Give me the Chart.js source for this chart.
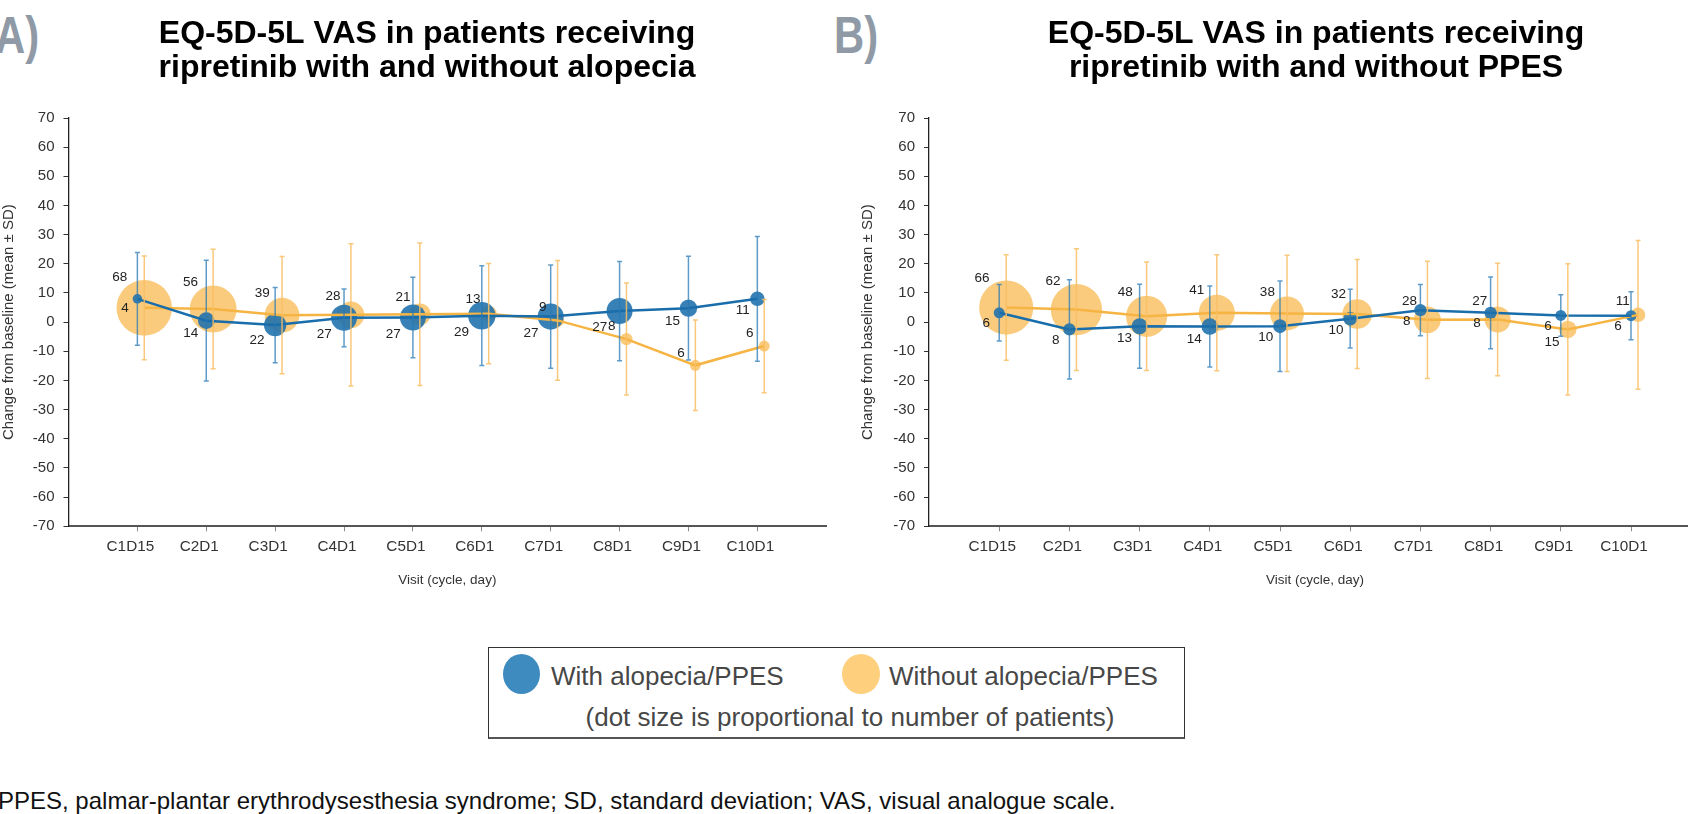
<!DOCTYPE html>
<html>
<head>
<meta charset="utf-8">
<title>EQ-5D-5L VAS change from baseline</title>
<script src="https://cdn.jsdelivr.net/npm/chart.js@4.4.1/dist/chart.umd.min.js"></script>
<style>
  html, body { margin: 0; padding: 0; background: #fff; }
  body { position: relative; width: 1688px; height: 814px; overflow: hidden;
         font-family: 'Liberation Sans', Arial, sans-serif; }
  .panel { position: absolute; top: 0; }
  #panelA { left: 0; }
  #panelB { left: 859px; }
  .tag { position: absolute; top: 10px; font-weight: bold; font-size: 51px; line-height: 51px;
         color: #8f9aa6; transform: scaleX(0.82); transform-origin: left top; white-space: nowrap; }
  #legend { position: absolute; left: 488px; top: 647px; width: 697px; height: 92px; box-sizing: border-box;
            border: 1px solid #333; border-bottom: 2px solid #555; }
  .dot { position: absolute; border-radius: 50%; }
  .ltext { position: absolute; font-size: 26px; line-height: 30px; color: #474747; white-space: nowrap; }
  #footnote { position: absolute; left: -2px; top: 788px; font-size: 24px; line-height: 26px; color: #111; white-space: nowrap; }
</style>
</head>
<body>
<div class="tag" style="left:-5px">A)</div>
<div class="tag" style="left:834px">B)</div>
<canvas id="panelA" class="panel" width="854" height="600"></canvas>
<canvas id="panelB" class="panel" width="914" height="600"></canvas>

<div id="legend"></div>
<div class="dot" style="left:503px;top:654px;width:37px;height:40px;background:#3e8bbf"></div>
<div class="ltext" style="left:551px;top:661px">With alopecia/PPES</div>
<div class="dot" style="left:842px;top:654px;width:38px;height:40px;background:#fecf7d"></div>
<div class="ltext" style="left:889px;top:661px">Without alopecia/PPES</div>
<div class="ltext" style="left:850px;top:702px;transform:translateX(-50%)">(dot size is proportional to number of patients)</div>
<div id="footnote">PPES, palmar-plantar erythrodysesthesia syndrome; SD, standard deviation; VAS, visual analogue scale.</div>

<script>
// Visits on the x axis and y-axis tick values
const visits = ['C1D15', 'C2D1', 'C3D1', 'C4D1', 'C5D1', 'C6D1', 'C7D1', 'C8D1', 'C9D1', 'C10D1'];
const yTickValues = [70, 60, 50, 40, 30, 20, 10, 0, -10, -20, -30, -40, -50, -60, -70];

// A) alopecia: mean change, SD and number of patients per visit
const alopeciaWithMean    = [8.0, 0.5, -1.0, 1.5, 1.6, 2.2, 1.9, 3.8, 4.8, 8.0];
const alopeciaWithSD      = [15.9, 20.7, 12.9, 9.9, 13.8, 17.1, 17.7, 17.0, 17.8, 21.4];
const alopeciaWithN       = [4, 14, 22, 27, 27, 29, 27, 27, 15, 11];
const alopeciaWithoutMean = [4.9, 4.5, 2.4, 2.5, 2.7, 2.9, 0.6, -5.8, -14.8, -8.2];
const alopeciaWithoutSD   = [17.8, 20.5, 20.1, 24.4, 24.4, 17.2, 20.5, 19.2, 15.5, 16.0];
const alopeciaWithoutN    = [68, 56, 39, 28, 21, 13, 9, 8, 6, 6];

// B) PPES: mean change, SD and number of patients per visit
const ppesWithMean    = [3.2, -2.5, -1.4, -1.5, -1.4, 1.2, 4.1, 3.2, 2.3, 2.2];
const ppesWithSD      = [9.7, 17.0, 14.4, 13.9, 15.5, 10.1, 8.8, 12.3, 7.1, 8.2];
const ppesWithN       = [6, 8, 13, 14, 10, 10, 8, 8, 6, 6];
const ppesWithoutMean = [5.0, 4.3, 2.0, 3.2, 3.0, 2.8, 0.8, 0.9, -2.5, 2.5];
const ppesWithoutSD   = [18.1, 20.9, 18.6, 19.9, 19.9, 18.7, 20.1, 19.3, 22.5, 25.5];
const ppesWithoutN    = [66, 62, 48, 41, 38, 32, 28, 27, 15, 11];

const FONT = "'Liberation Sans', Arial, sans-serif";
const DODGE = 0.1;               // the "without" group sits slightly right of each visit
const COLORS = {
  blueDot: 'rgba(28,112,172,0.88)', blueLine: '#1a6dab', blueBar: 'rgba(40,122,182,0.75)',
  orangeDot: 'rgba(249,188,88,0.78)', orangeLine: '#f6b443', orangeBar: 'rgba(249,190,100,0.85)'
};

// dot size grows with the number of patients
function radiusFor(n) { return 3.3 + 0.36 * n; }

function linePoints(means, offset) {
  return means.map((m, i) => ({ x: i + 1 + offset, y: m }));
}
function bubblePoints(means, ns, offset) {
  return means.map((m, i) => ({ x: i + 1 + offset, y: m, r: radiusFor(ns[i]) }));
}

// Error bars (mean ± SD) and patient counts next to every dot
const errorAndCounts = {
  id: 'errorAndCounts',
  afterDatasetsDraw(chart, args, opts) {
    const { ctx } = chart;
    const xs = chart.scales.x, ys = chart.scales.y;
    const [withG, withoutG] = opts.groups;
    ctx.save();
    ctx.lineWidth = 1.5;
    for (const g of [withoutG, withG]) {
      ctx.strokeStyle = g.bar;
      g.mean.forEach((m, i) => {
        const px = xs.getPixelForValue(i + 1 + g.offset);
        const top = ys.getPixelForValue(m + g.sd[i]);
        const bot = ys.getPixelForValue(m - g.sd[i]);
        ctx.beginPath();
        ctx.moveTo(px, top); ctx.lineTo(px, bot);
        ctx.moveTo(px - 2.5, top); ctx.lineTo(px + 2.5, top);
        ctx.moveTo(px - 2.5, bot); ctx.lineTo(px + 2.5, bot);
        ctx.stroke();
      });
    }
    ctx.fillStyle = '#222';
    ctx.font = '13.5px ' + FONT;
    ctx.textAlign = 'center';
    ctx.textBaseline = 'middle';
    const above = (cx, cy, r) => [cx - (12 + 0.45 * r), cy - (8 + 0.8 * r)];
    const below = (cx, cy, r) => [cx - (8 + 0.9 * r), cy + (6 + 0.8 * r)];
    visits.forEach((v, i) => {
      const bx = xs.getPixelForValue(i + 1 + withG.offset), by = ys.getPixelForValue(withG.mean[i]);
      const [lx, ly] = below(bx, by, radiusFor(withG.n[i]));
      ctx.fillText(String(withG.n[i]), lx, ly);
      const ox = xs.getPixelForValue(i + 1 + withoutG.offset), oy = ys.getPixelForValue(withoutG.mean[i]);
      const lowerAndLarger = withoutG.mean[i] < withG.mean[i] - 4 && withoutG.n[i] > withG.n[i];
      const [tx, ty] = (lowerAndLarger ? below : above)(ox, oy, radiusFor(withoutG.n[i]));
      ctx.fillText(String(withoutG.n[i]), tx, ty);
    });
    ctx.restore();
  }
};

function makePanel(canvasId, title, withG, withoutG, yAxisWidth, rightWidth) {
  return new Chart(document.getElementById(canvasId), {
    type: 'bubble',
    data: {
      datasets: [
        { type: 'line', data: linePoints(withoutG.mean, DODGE), borderColor: COLORS.orangeLine,
          borderWidth: 2.5, pointRadius: 0, tension: 0, fill: false, order: 4 },
        { type: 'line', data: linePoints(withG.mean, 0), borderColor: COLORS.blueLine,
          borderWidth: 2.5, pointRadius: 0, tension: 0, fill: false, order: 3 },
        { type: 'bubble', data: bubblePoints(withG.mean, withG.n, 0), backgroundColor: COLORS.blueDot,
          borderWidth: 0, order: 5 },
        { type: 'bubble', data: bubblePoints(withoutG.mean, withoutG.n, DODGE), backgroundColor: COLORS.orangeDot,
          borderWidth: 0, order: 6 }
      ]
    },
    options: {
      responsive: false,
      animation: false,
      events: [],
      layout: { padding: 0 },
      plugins: {
        legend: { display: false },
        tooltip: { enabled: false },
        title: {
          display: true, text: title, color: '#000',
          font: { family: FONT, size: 32, weight: 'bold', lineHeight: 34 / 32 },
          padding: { top: 17, bottom: 33 }
        },
        errorAndCounts: {
          groups: [
            Object.assign({ offset: 0, bar: COLORS.blueBar }, withG),
            Object.assign({ offset: DODGE, bar: COLORS.orangeBar }, withoutG)
          ]
        }
      },
      scales: {
        x: {
          type: 'linear', min: 0, max: 11,
          afterBuildTicks: s => { s.ticks = visits.map((v, i) => ({ value: i + 1 })); },
          afterFit: s => { s.height = 73.7; },
          grid: { drawOnChartArea: false, drawTicks: true, tickLength: 5, color: '#8a8a8a' },
          border: { display: true, color: '#555', width: 2 },
          ticks: {
            callback: v => visits[Math.round(v) - 1], color: '#333',
            font: { family: FONT, size: 15.3 }, padding: 6.5, labelOffset: -7,
            autoSkip: false, maxRotation: 0, minRotation: 0
          },
          title: { display: true, text: 'Visit (cycle, day)', color: '#333',
                   font: { family: FONT, size: 13.5 }, padding: { top: 0, bottom: 12 } }
        },
        y: {
          type: 'linear', min: -70, max: 70,
          afterBuildTicks: s => { s.ticks = yTickValues.map(v => ({ value: v })); },
          afterFit: s => { s.width = yAxisWidth; },
          grid: { drawOnChartArea: false, drawTicks: true, tickLength: 5, color: '#333' },
          border: { display: true, color: '#222', width: 1.3 },
          ticks: { color: '#333', font: { family: FONT, size: 15 }, padding: 9 },
          title: { display: true, text: 'Change from baseline (mean ± SD)', color: '#333',
                   font: { family: FONT, size: 15 }, padding: { top: 0, bottom: 0 } }
        },
        spacer: {
          type: 'linear', position: 'right', display: true,
          grid: { display: false, drawTicks: false }, border: { display: false },
          ticks: { display: false }, title: { display: false },
          afterFit: s => { s.width = rightWidth; }
        }
      }
    },
    plugins: [errorAndCounts]
  });
}

makePanel('panelA',
  ['EQ-5D-5L VAS in patients receiving', 'ripretinib with and without alopecia'],
  { mean: alopeciaWithMean, sd: alopeciaWithSD, n: alopeciaWithN },
  { mean: alopeciaWithoutMean, sd: alopeciaWithoutSD, n: alopeciaWithoutN },
  68.5, 13.3);

makePanel('panelB',
  ['EQ-5D-5L VAS in patients receiving', 'ripretinib with and without PPES'],
  { mean: ppesWithMean, sd: ppesWithSD, n: ppesWithN },
  { mean: ppesWithoutMean, sd: ppesWithoutSD, n: ppesWithoutN },
  70, 71.8);
</script>
</body>
</html>
